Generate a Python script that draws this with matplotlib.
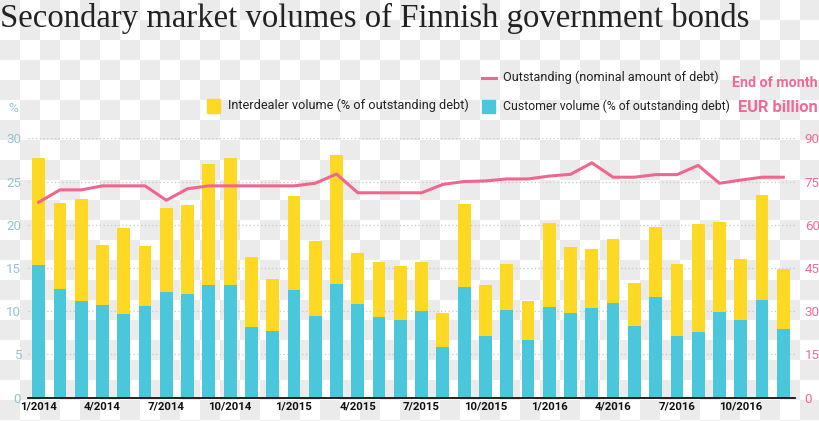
import matplotlib.pyplot as plt
from matplotlib.patches import Rectangle
from matplotlib.lines import Line2D
import numpy as np

# Monthly data, 1/2014 .. 12/2016
months = ["%d/%d" % (m, y) for y in (2014, 2015, 2016) for m in range(1, 13)]
customer = [15.35, 12.6, 11.2, 10.7, 9.7, 10.65, 12.2, 11.95, 13.0, 13.0, 8.15, 7.75,
            12.4, 9.5, 13.2, 10.85, 9.3, 9.0, 10.05, 5.9, 12.75, 7.15, 10.1, 6.65,
            10.45, 9.75, 10.35, 11.0, 8.35, 11.65, 7.15, 7.65, 9.9, 8.95, 11.3, 8.0]
interdealer = [12.35, 9.95, 11.75, 7.0, 9.9, 6.9, 9.75, 10.35, 14.0, 14.75, 8.15, 6.0,
               10.95, 8.6, 14.85, 5.9, 6.4, 6.2, 5.6, 3.95, 9.6, 5.9, 5.35, 4.5,
               9.7, 7.7, 6.85, 7.3, 4.9, 8.05, 8.3, 12.45, 10.4, 7.1, 12.2, 6.85]
outstanding = [67.8, 72.1, 72.1, 73.5, 73.5, 73.5, 68.5, 72.5, 73.5, 73.5, 73.5, 73.5,
               73.5, 74.4, 77.6, 71.1, 71.1, 71.1, 71.1, 74.0, 75.0, 75.2, 75.9, 75.9,
               76.9, 77.5, 81.5, 76.5, 76.5, 77.4, 77.4, 80.6, 74.4, 75.5, 76.5, 76.5]
left_ticks = [0, 5, 10, 15, 20, 25, 30]
right_ticks = [0, 15, 30, 45, 60, 75, 90]

yellow = "#fdd923"
cyan = "#4bc7dc"
pink = "#f0668f"
pink_text = "#f06a98"
blue_text = "#93c4d0"
sans = ["Roboto", "DejaVu Sans"]

W, H = 820, 421
fig = plt.figure(figsize=(W / 100, H / 100), dpi=100)
renderer = fig.canvas.get_renderer()


def fx(px):
    return px / W


def fy(py):
    return 1 - py / H


def fit(t, width):
    # scale a text so it takes the same width as in the reference
    w = t.get_window_extent(renderer).width
    t.set_fontsize(t.get_fontsize() * width / w)
    return t.get_fontsize()


def fitted_size(s, width, **kw):
    t = fig.text(0, 0, s, fontsize=10, **kw)
    size = fit(t, width)
    t.remove()
    return size


# checkerboard background
bg = fig.add_axes([0, 0, 1, 1], zorder=-5)
rows, cols = 22, 41
rr, cc = np.mgrid[0:rows, 0:cols]
checker = np.where(((rr + cc) % 2 == 0)[..., None], 235 / 255, 1.0) * np.ones((1, 1, 3))
bg.imshow(checker, extent=(0, cols * 20, rows * 20, 0), interpolation="nearest", aspect="auto")
bg.set_xlim(0, W)
bg.set_ylim(H, 0)
bg.axis("off")

# main axes
ax = fig.add_axes([28 / W, (H - 397.7) / H, (795 - 28) / W, (397.7 - 138.3) / H])
ax.patch.set_alpha(0)
x = np.arange(len(months))
ax.bar(x, customer, width=0.6, color=cyan, zorder=3)
ax.bar(x, interdealer, width=0.6, bottom=customer, color=yellow, zorder=3)
ax.set_xlim(-0.5, 35.55)
ax.set_ylim(0, 30)
ax.set_yticks(left_ticks)
ax.grid(axis="y", color="#c8c8c8", linestyle=(0, (1, 2)), linewidth=0.9, zorder=0)
for s in ("top", "left", "right"):
    ax.spines[s].set_visible(False)
ax.spines["bottom"].set_color("#111111")
ax.spines["bottom"].set_linewidth(1.3)
ax.spines["bottom"].set_zorder(5)

xsize = fitted_size("1/2014", 37, family=sans, fontweight="bold")
tsize = fitted_size("30", 15, family=sans)
ax.set_xticks(x[::3])
ax.set_xticklabels(months[::3], family=sans, fontweight="bold", fontsize=xsize,
                   color="#111111")
ax.tick_params(axis="x", length=0, pad=3)
ax.tick_params(axis="y", length=0, pad=5, labelcolor=blue_text, labelsize=tsize)
for t in ax.get_yticklabels():
    t.set_family(sans)

ax2 = ax.twinx()
ax2.plot(x, outstanding, color=pink, linewidth=2.2, zorder=4)
ax2.set_ylim(0, 90)
ax2.set_yticks(right_ticks)
ax2.tick_params(axis="y", length=0, pad=7, labelcolor=pink_text, labelsize=tsize)
for t in ax2.get_yticklabels():
    t.set_family(sans)
for s in ax2.spines.values():
    s.set_visible(False)

# title
title = fig.text(0, fy(18), "Secondary market volumes of Finnish government bonds",
                 family=["Liberation Serif", "DejaVu Serif"], fontsize=24, color="#222222",
                 ha="left", va="center")
fit(title, 750)

# legend, placed by hand in pixel coordinates
fig.add_artist(Line2D([fx(482), fx(496)], [fy(78), fy(78)], color=pink, linewidth=2.2))
fig.add_artist(Rectangle((fx(482), fy(113)), 13 / W, 13 / H, color=cyan))
fig.add_artist(Rectangle((fx(207), fy(113)), 13 / W, 14 / H, color=yellow))
t1 = fig.text(fx(503), fy(77), "Outstanding (nominal amount of debt)", family=sans,
              fontsize=10, color="#222222", va="center")
fit(t1, 214)
t2 = fig.text(fx(503), fy(106.5), "Customer volume (% of outstanding debt)", family=sans,
              fontsize=10, color="#222222", va="center")
fit(t2, 227)
t3 = fig.text(fx(228), fy(105.5), "Interdealer volume (% of outstanding debt)", family=sans,
              fontsize=10, color="#222222", va="center")
fit(t3, 242)
t4 = fig.text(fx(818), fy(83), "End of month", family=sans, fontweight="bold",
              fontsize=10, color=pink_text, ha="right", va="center")
fit(t4, 86)
t5 = fig.text(fx(818), fy(107), "EUR billion", family=sans, fontweight="bold",
              fontsize=10, color=pink_text, ha="right", va="center")
fit(t5, 80)
fig.text(fx(8), fy(108), "%", family=sans, fontsize=tsize, color=blue_text, va="center")

fig.savefig("out.png", dpi=100)
